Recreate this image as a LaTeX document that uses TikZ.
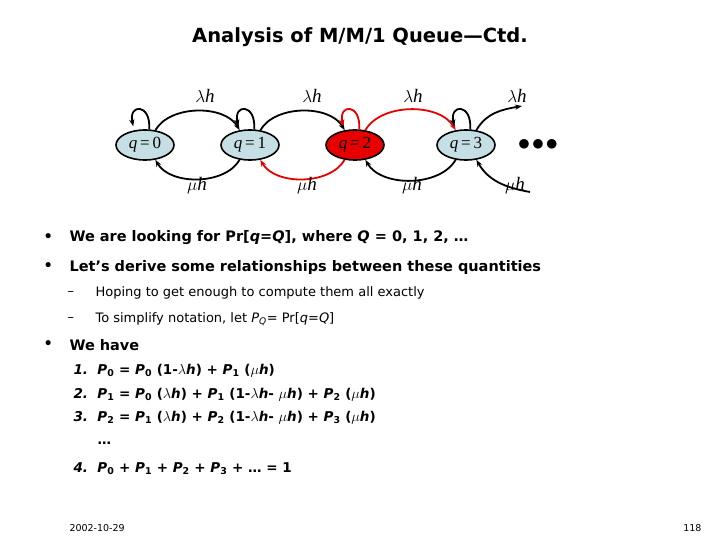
\documentclass[tikz,border=0pt]{standalone}
\usepackage{fontspec}
\setmainfont{DejaVu Sans}
\newfontfamily\serf{Liberation Serif}
\usetikzlibrary{arrows.meta,shapes.geometric}
\definecolor{stfill}{HTML}{C5DFE4}
\definecolor{hot}{HTML}{E60000}
\begin{document}
\begin{tikzpicture}[x=1pt,y=-1pt,
  st/.style={ellipse,draw,line width=1.6pt,fill=stfill,minimum width=58pt,minimum height=30pt,inner sep=0pt,font=\fontsize{17}{17}\selectfont\serf},
  ar/.style={line width=1.8pt,-{Stealth[length=7pt]}},
  lab/.style={font=\fontsize{19}{19}\selectfont\serf},
  bt/.style={anchor=west,font=\fontsize{14.5}{16}\selectfont\bfseries},
  sb/.style={anchor=west,font=\fontsize{13}{15}\selectfont},
  eq/.style={anchor=west,font=\fontsize{13.5}{16}\selectfont\bfseries}]
\useasboundingbox (0,0) rectangle (720,540);
\node (title) at (360,37) {\fontsize{19.5}{22}\selectfont\bfseries Analysis of M/M/1 Queue—Ctd.};
\node[st] (q0) at (145,145) {\textit{q}\,=\,0};
\node[st] (q1) at (250,145) {\textit{q}\,=\,1};
\node[st,fill=hot] (q2) at (355,145) {\textit{q}\,=\,2};
\node[st] (q3) at (466,145) {\textit{q}\,=\,3};
\node (dots) at (538,145) {\fontsize{24}{24}\selectfont$\bullet\!\bullet\!\bullet$};
\coordinate (out3) at (522,106);
\coordinate (in3) at (530,192);
% top arcs
\draw[ar] (q0.55) to[out=60,in=120,looseness=0.9] (q1.125);
\draw[ar] (q1.55) to[out=60,in=120,looseness=0.9] (q2.125);
\draw[ar,hot] (q2.55) to[out=60,in=120,looseness=0.9] (q3.125);
\draw[ar] (q3.55) to[out=60,in=190] (out3);
% bottom arcs
\draw[ar] (q1.-125) to[out=-120,in=-60,looseness=0.9] (q0.-55);
\draw[ar,hot] (q2.-125) to[out=-120,in=-60,looseness=0.9] (q1.-55);
\draw[ar] (q3.-125) to[out=-120,in=-60,looseness=0.9] (q2.-55);
\draw[ar] (in3) to[out=170,in=-60] (q3.-55);
% self loops
\foreach \n/\c in {q0/black,q1/black,q2/hot,q3/black}
  \draw[ar,\c] (\n.75) .. controls ([xshift=2pt,yshift=26pt]\n.75) and ([xshift=-14pt,yshift=26pt]\n.100) .. ([xshift=-9pt,yshift=3pt]\n.100);
% labels
\foreach \x/\nm in {205/l0,312/l1,413/l2,517/l3} \node[lab] (\nm) at (\x,96) {$\lambda$\textit{h}};
\foreach \x/\nm in {197/m0,307/m1,412/m2,515/m3} \node[lab] (\nm) at (\x,186) {$\mu$\textit{h}};
% text
\node[bt] (b1) at (40,238) {•};
\node[bt] (t1) at (66,238) {We are looking for Pr[\textit{q}=\textit{Q}], where \textit{Q} = 0, 1, 2, …};
\node[bt] (b2) at (40,267) {•};
\node[bt] (t2) at (66,267) {Let’s derive some relationships between these quantities};
\node[sb] (d1) at (64,293) {–};
\node[sb] (s1) at (92,293) {Hoping to get enough to compute them all exactly};
\node[sb] (d2) at (64,319) {–};
\node[sb] (s2) at (92,319) {To simplify notation, let \textit{P}\textsubscript{\textit{Q}}= Pr[\textit{q}=\textit{Q}]};
\node[bt] (b3) at (40,345) {•};
\node[bt] (t3) at (66,345) {We have};
\node[eq] (e1) at (70,371) {\textit{1.}\ \ \textit{P}\textsubscript{0} = \textit{P}\textsubscript{0} (1-$\lambda$\textit{h}) + \textit{P}\textsubscript{1} ($\mu$\textit{h})};
\node[eq] (e2) at (70,395) {\textit{2.}\ \ \textit{P}\textsubscript{1} = \textit{P}\textsubscript{0} ($\lambda$\textit{h}) + \textit{P}\textsubscript{1} (1-$\lambda$\textit{h}- $\mu$\textit{h}) + \textit{P}\textsubscript{2} ($\mu$\textit{h})};
\node[eq] (e3) at (70,418) {\textit{3.}\ \ \textit{P}\textsubscript{2} = \textit{P}\textsubscript{1} ($\lambda$\textit{h}) + \textit{P}\textsubscript{2} (1-$\lambda$\textit{h}- $\mu$\textit{h}) + \textit{P}\textsubscript{3} ($\mu$\textit{h})};
\node[eq] (e4) at (94,443) {…};
\node[eq] (e5) at (70,469) {\textit{4.}\ \ \textit{P}\textsubscript{0} + \textit{P}\textsubscript{1} + \textit{P}\textsubscript{2} + \textit{P}\textsubscript{3} + … = 1};
\node[anchor=west,font=\fontsize{9.5}{10}\selectfont] (date) at (66,528) {2002-10-29};
\node[anchor=east,font=\fontsize{9.5}{10}\selectfont] (pg) at (705,528) {118};
\end{tikzpicture}
\end{document}
